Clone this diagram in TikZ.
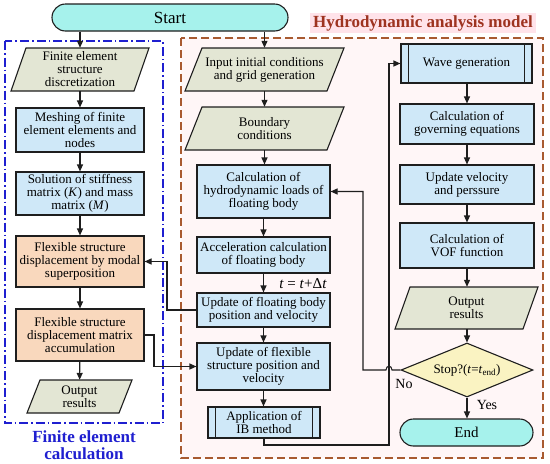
\documentclass[tikz,border=0pt]{standalone}
\usepackage{fontspec}
\setmainfont{Liberation Serif}
\usetikzlibrary{shapes.geometric,arrows.meta,calc}
\definecolor{lc}{HTML}{1E1E1E}
\definecolor{bfill}{HTML}{CFE8F8}
\definecolor{ofill}{HTML}{F9D8BD}
\definecolor{pfill}{HTML}{E3E6D4}
\definecolor{cfill}{HTML}{A6F2EC}
\definecolor{dfill}{HTML}{FAF3C2}
\definecolor{fblue}{HTML}{1F1FD0}
\definecolor{rdash}{HTML}{A85A30}
\definecolor{tred}{HTML}{9E3320}
\definecolor{tpink}{HTML}{FFE3EA}
\definecolor{bgpink}{HTML}{FFF6F7}
\newcommand\bxfont{\fontsize{13}{13}\selectfont}
\newcommand\ttlfont{\fontsize{17}{17}\selectfont\bfseries}
\newcommand\mypara[7]{%
  \filldraw[pstyle] (#2-#4/2,#3+#5/2) -- (#2-#4/2+#6,#3-#5/2) -- (#2+#4/2,#3-#5/2) -- (#2+#4/2-#6,#3+#5/2) -- cycle;
  \node[ptext, minimum width=#4pt, minimum height=#5pt] (#1) at (#2,#3) {#7};}
\tikzset{
  base/.style={draw=lc, line width=1.1pt, align=center, font=\bxfont, inner sep=0pt, text=black, rectangle},
  bluebox/.style={base, fill=bfill},
  orbox/.style={base, fill=ofill},
  pstyle/.style={draw=lc, line width=1.1pt, fill=pfill},
  ptext/.style={align=center, font=\bxfont, inner sep=0pt, text=black},
  arr/.style={draw=lc, line width=1.1pt, -{Triangle[length=7pt,width=6pt]}},
  ln/.style={draw=lc, line width=1.1pt},
}
\begin{document}
\begin{tikzpicture}[x=1pt,y=-1pt]
\fill[white] (0,0) rectangle (550,464);
\useasboundingbox (0,0) rectangle (550,464);
% frames
\draw[rdash, line width=1.5pt, dash pattern=on 8pt off 4pt, fill=bgpink] (181,38) rectangle (543,458);
\draw[fblue, line width=1.3pt, dash pattern=on 9pt off 3pt on 1.5pt off 3pt] (5,41) rectangle (163,423);
\node[fill=tpink, text=tred, font=\ttlfont, inner xsep=3pt, inner ysep=2pt] (title) at (423,23) {Hydrodynamic analysis model};
\node[text=fblue, font=\ttlfont, align=center] (fetitle) at (84,445) {Finite element\\calculation};
% start
\node[base, fill=cfill, rounded corners=13.5pt, minimum width=236pt, minimum height=27pt, font=\fontsize{17}{17}\selectfont] (start) at (170,17.5) {Start};
% left column
\mypara{fe1}{80}{69.5}{138}{43}{15}{Finite element\\structure\\discretization}
\node[bluebox, minimum width=128pt, minimum height=44pt] (mesh) at (80,130) {Meshing of finite\\element elements and\\nodes};
\node[bluebox, minimum width=128pt, minimum height=43pt] (solve) at (80,193.5) {Solution of stiffness\\matrix (\textit{K}) and mass\\matrix (\textit{M})};
\node[orbox, minimum width=128pt, minimum height=51pt] (modal) at (80,261.5) {Flexible structure\\displacement by modal\\superposition};
\node[orbox, minimum width=128pt, minimum height=52pt] (accum) at (80,335) {Flexible structure\\displacement matrix\\accumulation};
\mypara{out1}{79.5}{396.5}{105}{33}{13}{Output\\results}
% middle column
\mypara{input}{264.5}{69.5}{159}{43}{17}{Input initial conditions\\and grid generation}
\mypara{bound}{264.5}{128.5}{159}{43}{17}{Boundary\\conditions}
\node[bluebox, minimum width=133pt, minimum height=53pt] (loads) at (263.5,191.5) {Calculation of\\hydrodynamic loads of\\floating body};
\node[bluebox, minimum width=133pt, minimum height=36pt] (accel) at (263.5,255) {Acceleration calculation\\of floating body};
\node[bluebox, minimum width=133pt, minimum height=34pt] (updfloat) at (263.5,310) {Update of floating body\\position and velocity};
\node[bluebox, minimum width=133pt, minimum height=47pt] (updflex) at (263.5,366.5) {Update of flexible\\structure position and\\velocity};
\node[bluebox, minimum width=112pt, minimum height=31pt] (ib) at (264,422.5) {Application of\\IB method};
\draw[ln] ([xshift=8pt]ib.north west) -- ([xshift=8pt]ib.south west);
\draw[ln] ([xshift=-8pt]ib.north east) -- ([xshift=-8pt]ib.south east);
\node[font=\fontsize{15}{15}\selectfont, inner sep=0pt] (dt) at (303,284) {\textit{t} = \textit{t}+Δ\textit{t}};
% right column
\node[bluebox, minimum width=131pt, minimum height=39pt] (wave) at (466.5,63.5) {Wave generation};
\draw[ln] ([xshift=8pt]wave.north west) -- ([xshift=8pt]wave.south west);
\draw[ln] ([xshift=-8pt]wave.north east) -- ([xshift=-8pt]wave.south east);
\node[bluebox, minimum width=134pt, minimum height=40pt] (gov) at (467,124) {Calculation of\\governing equations};
\node[bluebox, minimum width=134pt, minimum height=39pt] (updvp) at (467,184.5) {Update velocity\\and perssure};
\node[bluebox, minimum width=134pt, minimum height=45pt] (vof) at (467,245.5) {Calculation of\\VOF function};
\mypara{out2}{466.5}{308}{143}{42}{15}{Output\\results}
\node[base, diamond, fill=dfill, minimum width=132pt, minimum height=54pt, aspect=2.44] (stop) at (467,370) {Stop?(\textit{t}=\textit{t}\textsubscript{end})};
\node[base, fill=cfill, rounded corners=13.5pt, minimum width=133pt, minimum height=27pt, font=\fontsize{15}{15}\selectfont] (end) at (466.5,432.5) {End};
\node[font=\fontsize{14}{14}\selectfont, inner sep=0pt] (no) at (404,384) {No};
\node[font=\fontsize{14}{14}\selectfont, inner sep=0pt] (yes) at (487,405) {Yes};
% connectors
\draw[arr] (fe1.north |- start.south) -- (fe1.north);
\draw[arr] (input.north |- start.south) -- (input.north);
\draw[arr] (fe1) -- (mesh);
\draw[arr] (mesh) -- (solve);
\draw[arr] (solve) -- (modal);
\draw[arr] (modal) -- (accum);
\draw[arr] (accum) -- (out1);
\draw[arr] (input) -- (bound);
\draw[arr] (bound.south) -- (loads.north -| bound.south);
\draw[arr] (loads) -- (accel);
\draw[arr] (accel) -- (updfloat);
\draw[arr] (updfloat) -- (updflex);
\draw[arr] (updflex.south) -- (ib.north -| updflex.south);
\draw[arr] (wave.south -| gov.north) -- (gov.north);
\draw[arr] (gov) -- (updvp);
\draw[arr] (updvp) -- (vof);
\draw[arr] (vof) -- (out2.north -| vof.south);
\draw[arr] (out2.south -| stop.north) -- (stop.north);
\draw[arr] (stop.south) -- (end.north -| stop.south);
\draw[arr] (stop.west) -- (392,370) .. controls (392,365) and (386,365) .. (386,370) -- (363,370) |- (loads.east);
\draw[arr] (ib.south) |- (389,445) |- (wave.west);
\draw[arr] (updfloat.west) -| (167,261.5) -- (modal.east);
\draw[arr] (accum.east) -- (154,335) |- (updflex.west);
\end{tikzpicture}
\end{document}
